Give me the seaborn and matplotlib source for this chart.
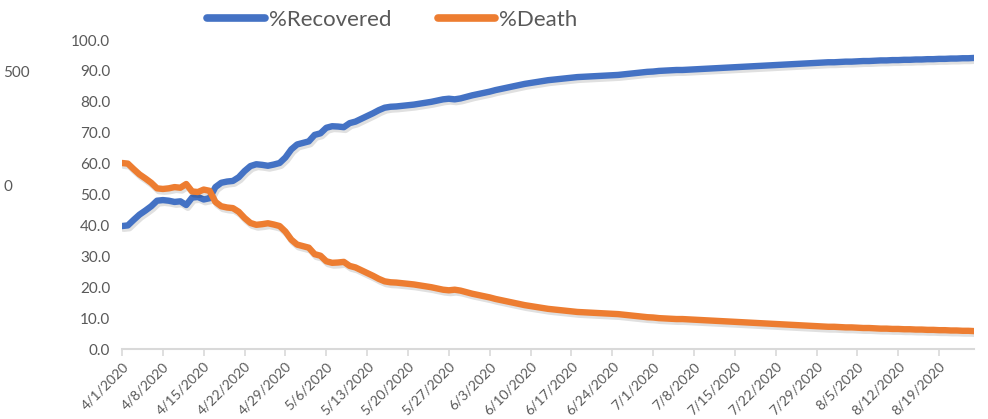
import matplotlib
matplotlib.use("Agg")
import matplotlib.pyplot as plt
import matplotlib.patheffects as pe
import seaborn as sns
import pandas as pd

# % of closed cases, one value per day (4/1/2020 - 8/25/2020)
recovered_apr = [39.8, 40.0, 41.8, 43.5, 44.8, 46.2, 48.0, 48.2, 48.0, 47.6,
                 47.8, 46.6, 49.0, 49.2, 48.4, 48.8, 52.4, 53.8, 54.2, 54.4,
                 55.6, 57.6, 59.2, 59.8, 59.6, 59.3, 59.7, 60.2, 62.0, 64.6]
recovered_may = [66.2, 66.7, 67.2, 69.3, 69.8, 71.6, 72.1, 72.0, 71.8, 73.1,
                 73.6, 74.5, 75.4, 76.3, 77.3, 78.1, 78.4, 78.5, 78.7, 78.9,
                 79.1, 79.4, 79.7, 80.0, 80.4, 80.8, 81.0, 80.8, 81.1, 81.6, 82.1]
recovered_jun = [82.5, 82.9, 83.3, 83.8, 84.2, 84.6, 85.0, 85.4, 85.8, 86.1,
                 86.4, 86.7, 87.0, 87.2, 87.4, 87.6, 87.8, 88.0, 88.1, 88.2,
                 88.3, 88.4, 88.5, 88.6, 88.7, 88.9, 89.1, 89.3, 89.5, 89.7]
recovered_jul = [89.8, 90.0, 90.1, 90.2, 90.3, 90.3, 90.4, 90.5, 90.6, 90.7,
                 90.8, 90.9, 91.0, 91.1, 91.2, 91.3, 91.4, 91.5, 91.6, 91.7,
                 91.8, 91.9, 92.0, 92.1, 92.2, 92.3, 92.4, 92.5, 92.6, 92.7, 92.8]
recovered_aug = [92.8, 92.9, 93.0, 93.0, 93.1, 93.2, 93.2, 93.3, 93.4, 93.4,
                 93.5, 93.5, 93.6, 93.6, 93.7, 93.7, 93.8, 93.8, 93.9, 93.9,
                 94.0, 94.0, 94.1, 94.1, 94.2]

death_apr = [60.2, 60.0, 58.2, 56.5, 55.2, 53.8, 52.0, 51.8, 52.0, 52.4,
             52.2, 53.4, 51.0, 50.8, 51.6, 51.2, 47.6, 46.2, 45.8, 45.6,
             44.4, 42.4, 40.8, 40.2, 40.4, 40.7, 40.3, 39.8, 38.0, 35.4]
death_may = [33.8, 33.3, 32.8, 30.7, 30.2, 28.4, 27.9, 28.0, 28.2, 26.9,
             26.4, 25.5, 24.6, 23.7, 22.7, 21.9, 21.6, 21.5, 21.3, 21.1,
             20.9, 20.6, 20.3, 20.0, 19.6, 19.2, 19.0, 19.2, 18.9, 18.4, 17.9]
death_jun = [17.5, 17.1, 16.7, 16.2, 15.8, 15.4, 15.0, 14.6, 14.2, 13.9,
             13.6, 13.3, 13.0, 12.8, 12.6, 12.4, 12.2, 12.0, 11.9, 11.8,
             11.7, 11.6, 11.5, 11.4, 11.3, 11.1, 10.9, 10.7, 10.5, 10.3]
death_jul = [10.2, 10.0, 9.9, 9.8, 9.7, 9.7, 9.6, 9.5, 9.4, 9.3,
             9.2, 9.1, 9.0, 8.9, 8.8, 8.7, 8.6, 8.5, 8.4, 8.3,
             8.2, 8.1, 8.0, 7.9, 7.8, 7.7, 7.6, 7.5, 7.4, 7.3, 7.2]
death_aug = [7.2, 7.1, 7.0, 7.0, 6.9, 6.8, 6.8, 6.7, 6.6, 6.6,
             6.5, 6.5, 6.4, 6.4, 6.3, 6.3, 6.2, 6.2, 6.1, 6.1,
             6.0, 6.0, 5.9, 5.9, 5.8]

recovered = recovered_apr + recovered_may + recovered_jun + recovered_jul + recovered_aug
death = death_apr + death_may + death_jun + death_jul + death_aug

tick_labels = ["4/1/2020", "4/8/2020", "4/15/2020", "4/22/2020", "4/29/2020",
               "5/6/2020", "5/13/2020", "5/20/2020", "5/27/2020", "6/3/2020",
               "6/10/2020", "6/17/2020", "6/24/2020", "7/1/2020", "7/8/2020",
               "7/15/2020", "7/22/2020", "7/29/2020", "8/5/2020", "8/12/2020",
               "8/19/2020"]

series_names = ["%Recovered", "%Death"]
colors = ["#4472C4", "#ED7D31"]

dates = pd.date_range("2020-04-01", periods=len(recovered), freq="D")
df = pd.DataFrame({"date": list(dates) * 2,
                   "value": recovered + death,
                   "series": [series_names[0]] * len(recovered) + [series_names[1]] * len(death)})

sns.set_theme(style="white")
plt.rcParams["font.family"] = ["Lato", "DejaVu Sans"]
text_col = "#595959"

fig = plt.figure(figsize=(9.88, 4.19), dpi=100)
ax = fig.add_axes([0.1235, 0.167, 0.8625, 0.7375])

sns.lineplot(data=df, x="date", y="value", hue="series", palette=colors,
             linewidth=4.6, ax=ax, legend=False)
for line in ax.lines:
    line.set_solid_capstyle("round")
    line.set_solid_joinstyle("round")
    line.set_path_effects([pe.SimpleLineShadow(offset=(1.2, -2.0), shadow_color="black", alpha=0.12),
                           pe.Normal()])

ax.set_ylim(0, 100)
ax.set_xlim(dates[0], dates[-1])
ax.set_yticks(range(0, 101, 10))
ax.set_yticklabels([f"{v:.1f}" for v in range(0, 101, 10)], color=text_col, fontsize=11)
ax.set_xticks(pd.to_datetime(tick_labels, format="%m/%d/%Y"))
ax.set_xticklabels(tick_labels, rotation=45, ha="right", rotation_mode="anchor",
                   color=text_col, fontsize=10)
ax.set_xlabel("")
ax.set_ylabel("")

for s in ["top", "right", "left"]:
    ax.spines[s].set_visible(False)
ax.spines["bottom"].set_color("#d9d9d9")
ax.spines["bottom"].set_linewidth(1.5)
ax.tick_params(axis="x", which="major", bottom=True, length=5, width=1.2, color="#d9d9d9", pad=3)
ax.tick_params(axis="y", left=False, length=0, pad=8.5)

handles = [plt.Line2D([], [], color=c, linewidth=5.5, solid_capstyle="round") for c in colors]
fig.legend(handles, series_names, loc="center", bbox_to_anchor=(0.397, 0.952), ncol=2,
           frameon=False, fontsize=16, handlelength=2.6, columnspacing=2.1,
           handletextpad=0.15, labelcolor=text_col)

# stray labels left over from a hidden secondary axis
fig.text(0.003, 0.826, "500", color=text_col, fontsize=11, va="center")
fig.text(0.004, 0.553, "0", color=text_col, fontsize=11, va="center")

fig.savefig("out.png", dpi=100)
